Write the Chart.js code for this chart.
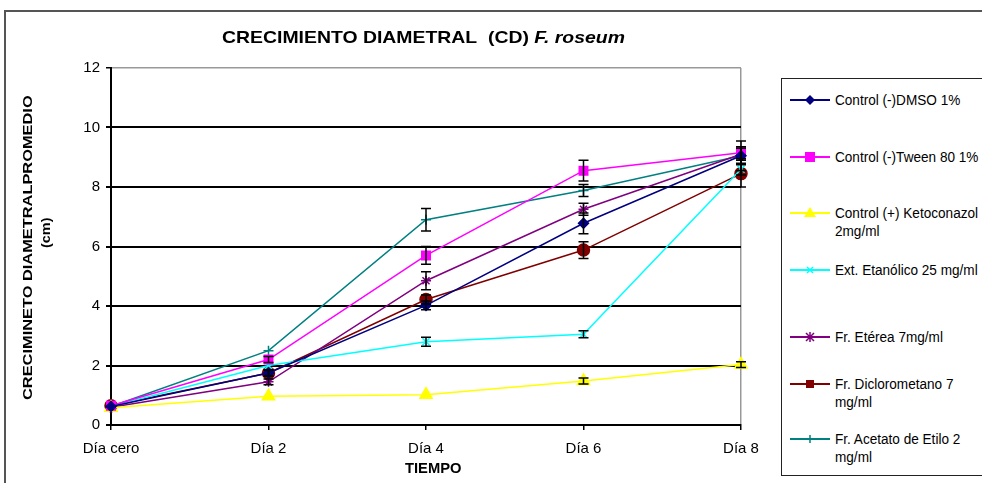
<!DOCTYPE html>
<html>
<head>
<meta charset="utf-8">
<script src="https://cdn.jsdelivr.net/npm/chart.js@4/dist/chart.umd.min.js"></script>
<style>
  body { margin: 0; background: #fff; font-family: "Liberation Sans", Arial, sans-serif; }
  #wrap { position: relative; width: 982px; height: 483px; overflow: hidden; }
  #frame { position: absolute; left: 4px; top: 10px; width: 1000px; height: 500px; border: 2px solid #555; }
  canvas { position: absolute; left: 0; top: 0; }
  .txt { position: absolute; white-space: nowrap; color: #000; transform-origin: 0 50%; }
  #titulo { left: 222px; top: 28px; font-size: 17px; font-weight: bold; }
  #tiempo { left: 405px; top: 459px; font-size: 15px; font-weight: bold; }
  .ytit { position: absolute; white-space: nowrap; font-weight: bold; font-size: 13px; transform-origin: 0 0; }
  #leyenda { position: absolute; left: 781px; top: 78px; width: 260px; height: 396px; border: 1.5px solid #222; background: #fff; }
  .item { position: absolute; left: 8px; height: 40px; }
  .item svg { position: absolute; left: 0; top: 0; }
  .item span { position: absolute; left: 45px; top: 1px; font-size: 14px; line-height: 18px; transform: scaleX(0.97); transform-origin: 0 0; white-space: nowrap; }
</style>
</head>
<body>
<div id="wrap">
  <div id="frame"></div>
  <canvas id="grafico" width="982" height="483"></canvas>
  <div id="titulo" class="txt">CRECIMIENTO DIAMETRAL&nbsp;&nbsp;(CD) <i>F. roseum</i></div>
  <div id="tiempo" class="txt">TIEMPO</div>
  <div id="ytit1" class="ytit">CRECIMINETO DIAMETRALPROMEDIO</div>
  <div id="ytit2" class="ytit">(cm)</div>
  <div id="leyenda"></div>
</div>
<script>
// categorías del eje X
const dias = ['Día cero', 'Día 2', 'Día 4', 'Día 6', 'Día 8'];

// diámetro promedio (cm) por tratamiento
const dmso = [0.62, 1.75, 4.02, 6.78, 9.05];
const tween = [0.65, 2.2, 5.7, 8.55, 9.15];
const keto = [0.58, 0.97, 1.02, 1.48, 2.03];
const etanolico = [0.62, 2.0, 2.8, 3.05, 8.6];
const eterea = [0.6, 1.45, 4.85, 7.25, 9.1];
const dicloro = [0.65, 1.75, 4.22, 5.88, 8.45];
const acetato = [0.62, 2.5, 6.9, 7.88, 9.05];

// desviación (barras de error)
const errDmso = [0.05, 0.1, 0.15, 0.35, 0.3];
const errTween = [0.05, 0.1, 0.3, 0.35, 0.2];
const errKeto = [0.05, 0.05, 0.08, 0.1, 0.1];
const errEtanolico = [0.05, 0.05, 0.15, 0.12, 0.2];
const errEterea = [0.05, 0.1, 0.3, 0.2, 0.2];
const errDicloro = [0.05, 0.1, 0.15, 0.28, 0.45];
const errAcetato = [0.05, 0.08, 0.38, 0.2, 0.5];

const yTicks = [0, 2, 4, 6, 8, 10, 12];

const series = [
  { label: 'Control (-)DMSO 1%', data: dmso, err: errDmso, color: '#000080', punto: 'rectRot', r: 5 },
  { label: 'Control (-)Tween 80 1%', data: tween, err: errTween, color: '#FF00FF', punto: 'rect', r: 6 },
  { label: ['Control (+) Ketoconazol', '2mg/ml'], data: keto, err: errKeto, color: '#FFFF00', punto: 'triangle', r: 7 },
  { label: 'Ext. Etanólico 25 mg/ml', data: etanolico, err: errEtanolico, color: '#00FFFF', punto: 'crossRot', r: 5 },
  { label: 'Fr. Etérea 7mg/ml', data: eterea, err: errEterea, color: '#800080', punto: 'star', r: 5 },
  { label: ['Fr. Diclorometano 7', 'mg/ml'], data: dicloro, err: errDicloro, color: '#800000', punto: 'circle', r: 6 },
  { label: ['Fr. Acetato de Etilo 2', 'mg/ml'], data: acetato, err: errAcetato, color: '#008080', punto: 'cross', r: 5 }
];

// barras de error dibujadas con las escalas del gráfico
const barrasError = {
  id: 'barrasError',
  afterDatasetsDraw(chart) {
    const ctx = chart.ctx;
    const x = chart.scales.x, y = chart.scales.y;
    ctx.save();
    ctx.strokeStyle = '#000';
    ctx.lineWidth = 1.5;
    series.forEach(s => {
      s.data.forEach((v, i) => {
        const e = s.err[i];
        if (e < 0.1) return;
        const px = x.getPixelForValue(i);
        const top = y.getPixelForValue(v + e);
        const bot = y.getPixelForValue(v - e);
        ctx.beginPath();
        ctx.moveTo(px, top); ctx.lineTo(px, bot);
        ctx.moveTo(px - 5, top); ctx.lineTo(px + 5, top);
        ctx.moveTo(px - 5, bot); ctx.lineTo(px + 5, bot);
        ctx.stroke();
      });
    });
    ctx.restore();
  }
};

new Chart(document.getElementById('grafico'), {
  type: 'line',
  data: {
    labels: dias,
    datasets: series.map(s => ({
      label: Array.isArray(s.label) ? s.label.join(' ') : s.label,
      data: s.data,
      borderColor: s.color,
      backgroundColor: s.color,
      borderWidth: 1.5,
      pointStyle: s.punto,
      pointRadius: s.r,
      pointBorderColor: s.color,
      pointBackgroundColor: s.color,
      pointBorderWidth: 1.5,
      tension: 0
    }))
  },
  options: {
    responsive: false,
    animation: false,
    devicePixelRatio: 1,
    layout: { padding: { top: 68, right: 241, left: 0, bottom: 0 } },
    plugins: { legend: { display: false }, tooltip: { enabled: false } },
    scales: {
      x: {
        offset: false,
        afterFit: sc => { sc.height = 58; },
        border: { color: '#000', width: 2 },
        grid: {
          color: c => c.index === 4 ? '#999' : 'rgba(0,0,0,0)',
          tickColor: '#000',
          tickLength: 5,
          lineWidth: 1.5
        },
        ticks: { color: '#000', font: { family: 'Liberation Sans', size: 15 }, padding: 10, maxRotation: 0 }
      },
      y: {
        min: 0, max: 12,
        afterFit: sc => { sc.width = 111; },
        afterBuildTicks: sc => { sc.ticks = yTicks.map(v => ({ value: v })); },
        border: { color: '#000', width: 2 },
        grid: {
          color: c => c.tick.value === 12 ? '#999' : '#000',
          lineWidth: c => c.tick.value === 12 ? 1.5 : 2,
          tickColor: '#000',
          tickLength: 5
        },
        ticks: { color: '#000', font: { family: 'Liberation Sans', size: 15 }, padding: 6 }
      }
    }
  },
  plugins: [barrasError]
});

// ajusta el ancho de un texto
function ajustar(el, ancho) {
  const w = el.offsetWidth;
  el.style.transform = 'scaleX(' + (ancho / w) + ')';
}
ajustar(document.getElementById('titulo'), 403);
ajustar(document.getElementById('tiempo'), 57);

// títulos del eje Y girados
function girar(el, largo, cx, cy) {
  const w = el.offsetWidth, h = el.offsetHeight;
  const s = largo / w;
  el.style.left = (cx - h / 2) + 'px';
  el.style.top = (cy + largo / 2) + 'px';
  el.style.transform = 'rotate(-90deg) scaleX(' + s + ')';
}
girar(document.getElementById('ytit1'), 305, 27, 247);
girar(document.getElementById('ytit2'), 30, 45, 233);

// leyenda
const tops = [11, 68, 124, 181, 248, 295, 350];
const leyenda = document.getElementById('leyenda');
series.forEach((s, i) => {
  const it = document.createElement('div');
  it.className = 'item';
  it.style.top = tops[i] + 'px';
  const c = s.color;
  let m = '';
  if (s.punto === 'rectRot') m = `<polygon points="20,5 25,10 20,15 15,10" fill="${c}"/>`;
  else if (s.punto === 'rect') m = `<rect x="15" y="5" width="10" height="10" fill="${c}"/>`;
  else if (s.punto === 'triangle') m = `<polygon points="20,4 26,14 14,14" fill="${c}"/>`;
  else if (s.punto === 'crossRot') m = `<path d="M17 7 L23 13 M23 7 L17 13" stroke="${c}" stroke-width="1.5"/>`;
  else if (s.punto === 'star') m = `<path d="M16 6 L24 14 M24 6 L16 14 M20 5 L20 15" stroke="${c}" stroke-width="1.5"/>`;
  else if (s.punto === 'circle') m = `<rect x="16" y="6" width="8" height="8" fill="${c}"/>`;
  else m = `<path d="M20 6 L20 14" stroke="${c}" stroke-width="1.5"/>`;
  const txt = Array.isArray(s.label) ? s.label.join('<br>') : s.label;
  it.innerHTML = `<svg width="45" height="20"><line x1="0" y1="10" x2="40" y2="10" stroke="${c}" stroke-width="2"/>${m}</svg><span>${txt}</span>`;
  leyenda.appendChild(it);
});
</script>
</body>
</html>
